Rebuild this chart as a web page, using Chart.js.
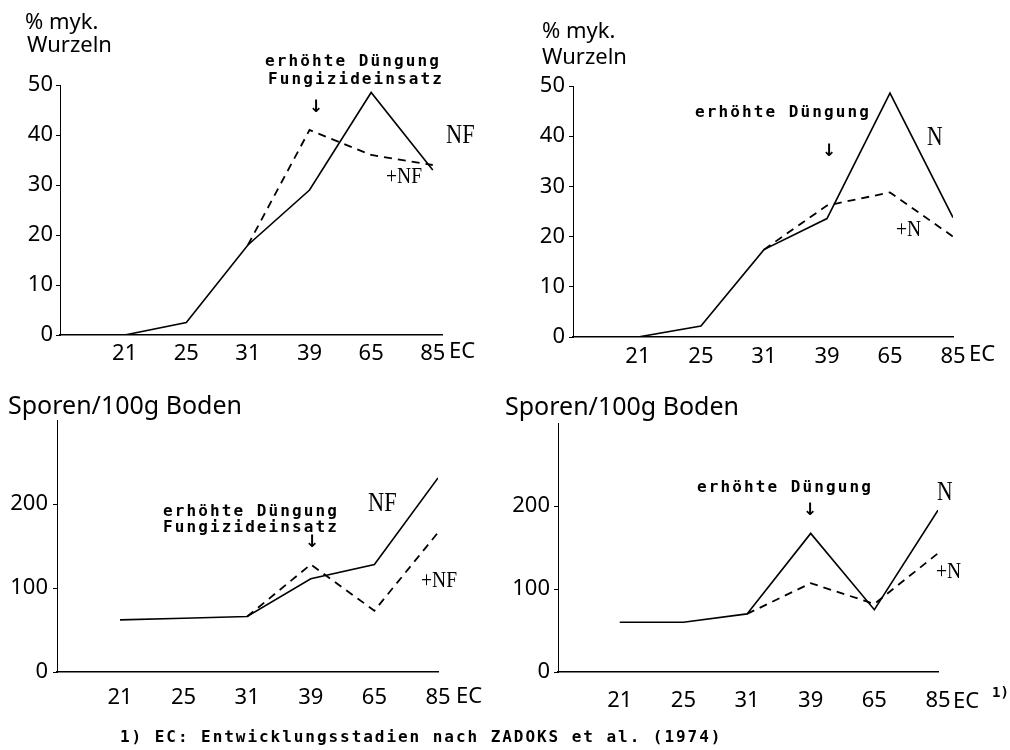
<!DOCTYPE html>
<html>
<head>
<meta charset="utf-8">
<script src="https://cdn.jsdelivr.net/npm/chart.js@4"></script>
<style>
  body { margin: 0; background: #fff; }
  #wrap { position: relative; width: 1010px; height: 750px; overflow: hidden; }
  canvas { position: absolute; }
  #footnote {
    position: absolute; left: 120px; top: 727px;
    font: bold 16px "DejaVu Sans Mono", monospace; letter-spacing: 1.95px;
    color: #000; white-space: nowrap;
  }
</style>
</head>
<body>
<div id="wrap">
  <canvas id="c1" width="505" height="375" style="left:0;top:0"></canvas>
  <canvas id="c2" width="505" height="375" style="left:505px;top:0"></canvas>
  <canvas id="c3" width="505" height="375" style="left:0;top:375px"></canvas>
  <canvas id="c4" width="505" height="375" style="left:505px;top:375px"></canvas>
  <div id="footnote">1) EC: Entwicklungsstadien nach ZADOKS et al. (1974)</div>
</div>
<script>
// EC-Stadien (x-Achse)
const ecLabels = ['21', '25', '31', '39', '65', '85'];

// % mykorrhizierte Wurzeln
const wurzelnNF = [0, 2.5, 18, 29, 48.5, 33];
const wurzelnPlusNF = [null, null, 18, 41, 36, 34];
const wurzelnN = [0, 2.2, 17.4, 23.6, 48.6, 23.8];
const wurzelnPlusN = [null, null, 17.4, 26.2, 28.8, 20];

// Sporen / 100g Boden
const sporenNF = [62, 64, 66, 111, 128, 231];
const sporenPlusNF = [null, null, 66, 128, 73, 166];
const sporenN = [60, 60, 70, 167, 75, 195];
const sporenPlusN = [null, null, 70, 107, 82, 143];

// Achsenbeschriftung
const wurzelnTicks = [0, 10, 20, 30, 40, 50];
const sporenTicks = [0, 100, 200];

Chart.defaults.color = '#000';

const numFont = '"Noto Sans", sans-serif';
const monoBold = 'bold 16px "DejaVu Sans Mono", monospace';
const serif = '"Liberation Serif", serif';
const arrowFont = 'bold 17px "DejaVu Sans"';

function toPoints(arr) {
    return arr.map((v, i) => ({ x: i, y: v }));
}

// Texte auf dem Canvas zeichnen
const textPlugin = {
    id: 'texts',
    afterDraw(chart, args, opts) {
        const ctx = chart.ctx;
        (opts.items || []).forEach(t => {
            ctx.save();
            ctx.fillStyle = '#000';
            ctx.textBaseline = 'middle';
            ctx.textAlign = 'left';
            ctx.font = t.font;
            ctx.letterSpacing = (t.ls || 0) + 'px';
            ctx.translate(t.x, t.y);
            ctx.scale(t.sx || 1, 1);
            ctx.fillText(t.text, 0, 0);
            ctx.restore();
        });
    }
};

function makePanel(id, p) {
    new Chart(document.getElementById(id), {
        type: 'line',
        data: {
            datasets: [{
                data: toPoints(p.solid),
                borderColor: '#000',
                borderWidth: 1.6,
                pointRadius: 0,
                tension: 0
            }, {
                data: toPoints(p.dashed),
                borderColor: '#000',
                borderWidth: 1.8,
                borderDash: [8, 6],
                pointRadius: 0,
                tension: 0
            }]
        },
        options: {
            responsive: false,
            animation: false,
            layout: { padding: { left: 0, bottom: 0, top: p.area.top, right: 505 - p.area.right } },
            plugins: {
                legend: { display: false },
                tooltip: { enabled: false },
                texts: { items: p.texts }
            },
            scales: {
                x: {
                    type: 'linear',
                    min: p.xMin,
                    max: p.xMax,
                    afterFit: s => { s.height = 375 - p.area.bottom; },
                    afterBuildTicks: s => { s.ticks = ecLabels.map((c, i) => ({ value: i })); },
                    grid: { display: false },
                    border: { display: true, color: '#000', width: 1.4 },
                    ticks: {
                        padding: p.xPad,
                        maxRotation: 0,
                        autoSkip: false,
                        font: { family: numFont, size: 22 },
                        callback: v => ecLabels[v] ?? ''
                    }
                },
                y: {
                    min: 0,
                    max: p.yMax,
                    afterFit: s => { s.width = p.area.left; },
                    afterBuildTicks: s => { s.ticks = p.yTicks.map(v => ({ value: v })); },
                    grid: { drawOnChartArea: false, drawTicks: true, tickLength: 4, color: '#000', lineWidth: 1 },
                    border: { display: true, color: '#000', width: 1, dash: p.yDash },
                    ticks: {
                        padding: p.yPad,
                        font: { family: numFont, size: 22 }
                    }
                }
            }
        },
        plugins: [textPlugin]
    });
}

makePanel('c1', {
    area: { left: 60, right: 442, top: 85, bottom: 335 },
    xMin: -1.05, xMax: 5.15, yMax: 50, yTicks: wurzelnTicks,
    xPad: -2, yPad: 3, yDash: [2, 4],
    solid: wurzelnNF, dashed: wurzelnPlusNF,
    texts: [
        { text: '% myk.', x: 25, y: 23, font: '22px ' + numFont },
        { text: 'Wurzeln', x: 27, y: 46, font: '22px ' + numFont },
        { text: 'erhöhte Düngung', x: 265, y: 62, font: monoBold, ls: 2.1 },
        { text: 'Fungizideinsatz', x: 268, y: 80, font: monoBold, ls: 2.1 },
        { text: '↓', x: 309, y: 108, font: arrowFont },
        { text: 'NF', x: 446, y: 136, font: '28px ' + serif, sx: 0.8 },
        { text: '+NF', x: 386, y: 177, font: '23px ' + serif, sx: 0.85 },
        { text: 'EC', x: 449, y: 352, font: '22px ' + numFont }
    ]
});

makePanel('c2', {
    area: { left: 68, right: 448, top: 86, bottom: 337 },
    xMin: -1.03, xMax: 5.0, yMax: 50, yTicks: wurzelnTicks,
    xPad: -1, yPad: 4, yDash: [2, 4],
    solid: wurzelnN, dashed: wurzelnPlusN,
    texts: [
        { text: '% myk.', x: 37, y: 32, font: '22px ' + numFont },
        { text: 'Wurzeln', x: 37, y: 58, font: '22px ' + numFont },
        { text: 'erhöhte Düngung', x: 190, y: 113, font: monoBold, ls: 2.1 },
        { text: '↓', x: 317, y: 152, font: arrowFont },
        { text: 'N', x: 422, y: 138, font: '27px ' + serif, sx: 0.8 },
        { text: '+N', x: 391, y: 230, font: '23px ' + serif, sx: 0.85 },
        { text: 'EC', x: 464, y: 355, font: '22px ' + numFont }
    ]
});

makePanel('c3', {
    area: { left: 57, right: 438, top: 45, bottom: 297 },
    xMin: -0.99, xMax: 5.0, yMax: 300, yTicks: sporenTicks,
    xPad: 5, yPad: 5, yDash: [2, 4],
    solid: sporenNF, dashed: sporenPlusNF,
    texts: [
        { text: 'Sporen/100g Boden', x: 8, y: 32, font: '25px ' + numFont },
        { text: 'erhöhte Düngung', x: 163, y: 137, font: monoBold, ls: 2.1 },
        { text: 'Fungizideinsatz', x: 163, y: 153, font: monoBold, ls: 2.1 },
        { text: '↓', x: 305, y: 168, font: arrowFont },
        { text: 'NF', x: 368, y: 129, font: '28px ' + serif, sx: 0.8 },
        { text: '+NF', x: 421, y: 206, font: '23px ' + serif, sx: 0.85 },
        { text: 'EC', x: 456, y: 322, font: '22px ' + numFont }
    ]
});

makePanel('c4', {
    area: { left: 53, right: 433, top: 48, bottom: 297 },
    xMin: -0.97, xMax: 5.0, yMax: 300, yTicks: sporenTicks,
    xPad: 8, yPad: 4, yDash: [10, 3],
    solid: sporenN, dashed: sporenPlusN,
    texts: [
        { text: 'Sporen/100g Boden', x: 0, y: 33, font: '25px ' + numFont },
        { text: 'erhöhte Düngung', x: 192, y: 113, font: monoBold, ls: 2.1 },
        { text: '↓', x: 298, y: 136, font: arrowFont },
        { text: 'N', x: 432, y: 118, font: '27px ' + serif, sx: 0.8 },
        { text: '+N', x: 431, y: 197, font: '23px ' + serif, sx: 0.85 },
        { text: 'EC', x: 448, y: 327, font: '22px ' + numFont },
        { text: '1)', x: 487, y: 318, font: 'bold 14px "DejaVu Sans Mono", monospace' }
    ]
});
</script>
</body>
</html>
